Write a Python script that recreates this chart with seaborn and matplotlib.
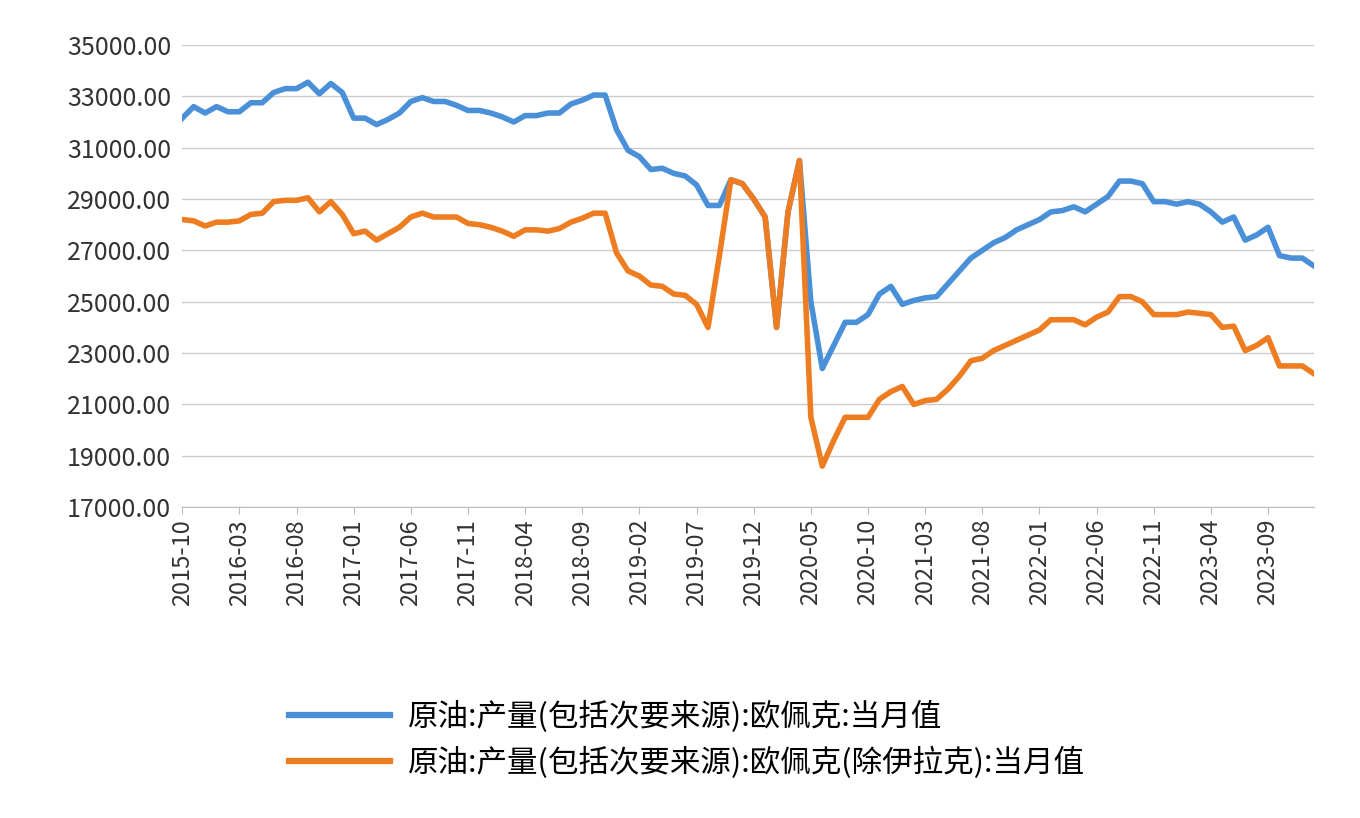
import matplotlib
matplotlib.use("Agg")
import matplotlib.pyplot as plt
import pandas as pd
import seaborn as sns

plt.rcParams["font.family"] = ["Noto Sans CJK SC", "DejaVu Sans"]

months = pd.period_range("2015-10", "2024-01", freq="M").strftime("%Y-%m").tolist()

opec = [32150, 32600, 32350, 32600, 32400, 32400, 32750, 32750, 33150, 33300,
        33300, 33550, 33100, 33500, 33150, 32150, 32150, 31900, 32100, 32350,
        32800, 32950, 32800, 32800, 32650, 32450, 32450, 32350, 32200, 32000,
        32250, 32250, 32350, 32350, 32700, 32850, 33050, 33050, 31700, 30900,
        30650, 30150, 30200, 30000, 29900, 29550, 28750, 28750, 29750, 29600,
        29000, 28300, 24000, 28500, 30500, 25000, 22400, 23300, 24200, 24200,
        24500, 25300, 25600, 24900, 25050, 25150, 25200, 25700, 26200, 26700,
        27000, 27300, 27500, 27800, 28000, 28200, 28500, 28550, 28700, 28500,
        28800, 29100, 29700, 29700, 29600, 28900, 28900, 28800, 28900, 28800,
        28500, 28100, 28300, 27400, 27600, 27900, 26800, 26700, 26700, 26400]

opec_ex_iraq = [28200, 28150, 27950, 28100, 28100, 28150, 28400, 28450, 28900, 28950,
                28950, 29050, 28500, 28900, 28400, 27650, 27750, 27400, 27650, 27900,
                28300, 28450, 28300, 28300, 28300, 28050, 28000, 27900, 27750, 27550,
                27800, 27800, 27750, 27850, 28100, 28250, 28450, 28450, 26900, 26200,
                26000, 25650, 25600, 25300, 25250, 24900, 24000, 26800, 29750, 29600,
                29000, 28300, 24000, 28500, 30500, 20500, 18600, 19600, 20500, 20500,
                20500, 21200, 21500, 21700, 21000, 21150, 21200, 21600, 22100, 22700,
                22800, 23100, 23300, 23500, 23700, 23900, 24300, 24300, 24300, 24100,
                24400, 24600, 25200, 25200, 25000, 24500, 24500, 24500, 24600, 24550,
                24500, 24000, 24050, 23100, 23300, 23600, 22500, 22500, 22500, 22200]

label_a = "原油:产量(包括次要来源):欧佩克:当月值"
label_b = "原油:产量(包括次要来源):欧佩克(除伊拉克):当月值"

df = pd.DataFrame({"month": months, label_a: opec, label_b: opec_ex_iraq})
df["idx"] = range(len(df))
long = df.melt(id_vars=["month", "idx"], var_name="series", value_name="value")

fig = plt.figure(figsize=(13.6, 8.18), dpi=100)
ax = fig.add_axes([0.134, 0.38, 0.832, 0.565])
sns.lineplot(data=long, x="idx", y="value", hue="series",
             palette=["#4a90d9", "#ee7d22"], linewidth=4, ax=ax)

ax.set_ylim(17000, 35000)
ax.set_yticks(range(17000, 35001, 2000))
ax.set_yticklabels([f"{v}.00" for v in range(17000, 35001, 2000)], fontsize=18, color="#333333")
ax.set_xlim(0, len(months) - 1)
ticks = list(range(0, len(months), 5))
ax.set_xticks(ticks)
ax.set_xticklabels([months[i] for i in ticks], rotation=90, fontsize=17, color="#333333")
ax.set_xlabel("")
ax.set_ylabel("")
ax.grid(axis="y", color="#cccccc", linewidth=1)
ax.set_axisbelow(True)
for s in ["left", "right", "top"]:
    ax.spines[s].set_visible(False)
ax.spines["bottom"].set_color("#bbbbbb")
ax.tick_params(axis="y", length=0, pad=8)
ax.tick_params(axis="x", color="#bbbbbb", length=5)

leg = ax.legend(loc="upper left", bbox_to_anchor=(0.07, -0.36), frameon=False,
                fontsize=22, handlelength=3.3, labelspacing=0.45, handletextpad=0.6)
for line in leg.get_lines():
    line.set_linewidth(4.5)

fig.savefig("out.png", dpi=100)
